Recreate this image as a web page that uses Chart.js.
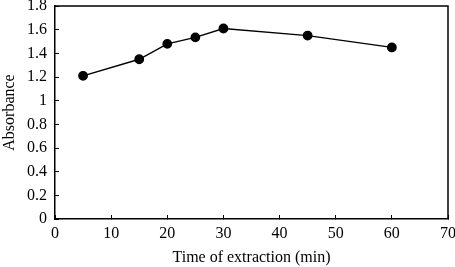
<!DOCTYPE html>
<html>
<head>
<meta charset="utf-8">
<script src="https://cdn.jsdelivr.net/npm/chart.js@4"></script>
<style>
  html, body { margin: 0; padding: 0; background: #fff; }
  #wrap { width: 455px; height: 267px; }
</style>
</head>
<body>
<div id="wrap"><canvas id="chart"></canvas></div>
<script>
// données
const times = [5, 15, 20, 25, 30, 45, 60];
const absorbance = [1.21, 1.35, 1.48, 1.535, 1.61, 1.55, 1.45];
const xTicks = [0, 10, 20, 30, 40, 50, 60, 70];
const yTicks = [0, 0.2, 0.4, 0.6, 0.8, 1, 1.2, 1.4, 1.6, 1.8];

const serif = { family: '"Liberation Serif", "DejaVu Serif", serif', size: 16 };

// cadre haut et droit autour de la zone de tracé
const framePlugin = {
  id: 'frame',
  afterDraw(chart) {
    const a = chart.chartArea;
    const ctx = chart.ctx;
    ctx.save();
    ctx.strokeStyle = '#000';
    ctx.lineWidth = 1.5;
    ctx.beginPath();
    ctx.moveTo(a.left, a.top);
    ctx.lineTo(a.right, a.top);
    ctx.lineTo(a.right, a.bottom);
    ctx.stroke();
    ctx.restore();
  }
};

new Chart(document.getElementById('chart'), {
  type: 'scatter',
  data: {
    datasets: [{
      data: times.map((t, i) => ({ x: t, y: absorbance[i] })),
      showLine: true,
      borderColor: '#000',
      backgroundColor: '#000',
      borderWidth: 1.4,
      pointRadius: 4.2,
      pointHoverRadius: 4.2,
      tension: 0
    }]
  },
  options: {
    responsive: true,
    maintainAspectRatio: false,
    animation: false,
    layout: { padding: { top: 6, right: 7, left: 0, bottom: 0 } },
    plugins: { legend: { display: false }, tooltip: { enabled: false } },
    scales: {
      x: {
        type: 'linear',
        min: 0, max: 70,
        afterBuildTicks: s => { s.ticks = xTicks.map(v => ({ value: v })); },
        afterFit: s => { s.height = 48; s.paddingLeft = 0; s.paddingRight = 0; },
        grid: { drawOnChartArea: false, drawTicks: true, tickLength: -4, color: '#000', lineWidth: 1 },
        border: { display: true, color: '#000', width: 1.5 },
        ticks: { color: '#000', font: serif, padding: 9, maxRotation: 0 },
        title: { display: true, text: 'Time of extraction (min)', color: '#000', font: serif, padding: { top: 0, bottom: 0 } }
      },
      y: {
        min: 0, max: 1.8,
        afterBuildTicks: s => { s.ticks = yTicks.map(v => ({ value: v })); },
        afterFit: s => { s.width = 55; s.paddingTop = 0; s.paddingBottom = 0; },
        grid: { drawOnChartArea: false, drawTicks: true, tickLength: -4, color: '#000', lineWidth: 1 },
        border: { display: true, color: '#000', width: 1.5 },
        ticks: { color: '#000', font: serif, padding: 12, callback: v => String(v) },
        title: { display: true, text: 'Absorbance', color: '#000', font: serif, padding: { top: 0, bottom: 0 } }
      }
    }
  },
  plugins: [framePlugin]
});
</script>
</body>
</html>
